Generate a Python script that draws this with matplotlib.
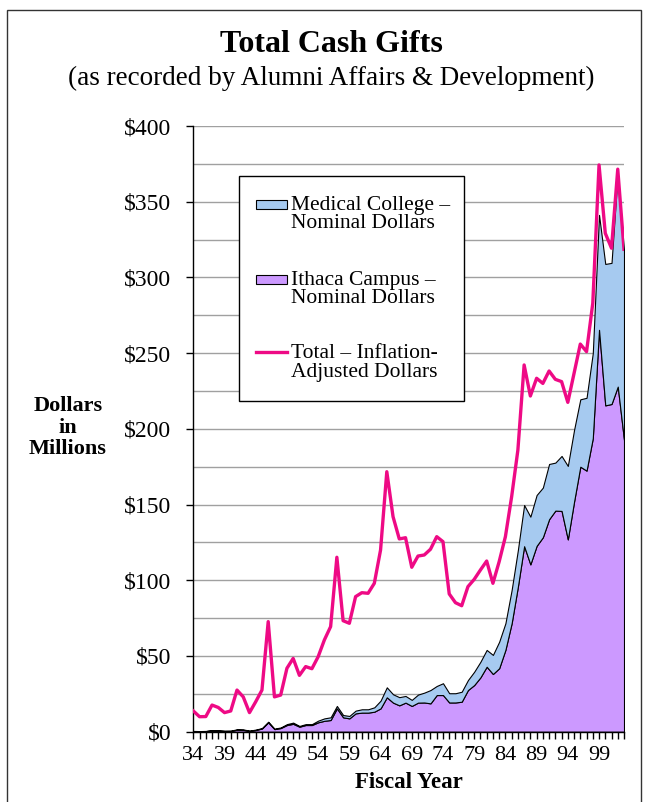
import numpy as np
import matplotlib
matplotlib.use("Agg")
import matplotlib.pyplot as plt
from matplotlib.patches import Rectangle
from matplotlib.lines import Line2D
from matplotlib.ticker import MultipleLocator, FixedLocator

W, H = 649, 802

# fiscal years 1934 - 2003, gifts in $ millions
years = np.arange(1934, 2004)

ithaca = [0.4, 0.3, 0.4, 0.8, 0.7, 0.5, 0.5, 1.3, 1.2, 0.5,
          1.1, 2.1, 6.2, 1.7, 2.4, 4.4, 5.2, 3.3, 4.4, 4.4,
          6.2, 7.2, 7.7, 15.4, 9.5, 8.8, 12.1, 12.6, 12.6, 13.2,
          15.4, 22.7, 19.2, 17.4, 19.2, 17.0, 19.2, 19.3, 18.7, 24.2,
          24.2, 19.3, 19.3, 19.8, 27.5, 30.8, 35.9, 42.9, 38.1, 41.9,
          54.0, 71.6, 95.8, 122.5, 110.5, 122.7, 128.4, 140.3, 146.0, 145.8,
          127.0, 151.9, 175.0, 172.4, 193.8, 265.4, 215.5, 216.4, 227.9, 192.7]

medical = [0.1, 0.1, 0.1, 0.2, 0.2, 0.1, 0.2, 0.3, 0.3, 0.2,
           0.3, 0.3, 0.4, 0.3, 0.4, 0.6, 0.8, 0.5, 0.6, 0.6,
           1.1, 1.6, 1.8, 1.6, 1.5, 1.6, 1.8, 2.2, 2.2, 2.9,
           5.1, 6.6, 5.5, 5.4, 4.4, 4.0, 5.3, 6.5, 8.8, 6.0,
           7.8, 6.1, 6.1, 6.6, 6.6, 8.8, 10.3, 11.1, 12.6, 17.5,
           17.6, 22.0, 24.2, 27.2, 31.5, 33.6, 32.8, 36.5, 31.7, 36.3,
           48.5, 47.4, 44.5, 48.1, 56.2, 75.9, 93.4, 93.2, 141.1, 125.3]

total_adjusted = [13.7, 9.9, 10.0, 17.6, 16.0, 12.6, 13.7, 27.5, 23.0, 12.6,
                  19.8, 27.5, 72.7, 23.0, 24.2, 41.9, 48.4, 37.2, 43.0, 41.6,
                  49.5, 60.6, 69.4, 115.2, 73.3, 71.6, 89.2, 91.8, 91.4, 98.0,
                  120.0, 171.7, 142.0, 127.3, 128.1, 108.6, 116.0, 116.7, 120.5, 128.8,
                  125.5, 91.0, 85.2, 83.2, 95.8, 100.6, 106.8, 112.7, 98.0, 112.3,
                  128.8, 155.2, 186.0, 242.2, 221.7, 233.4, 230.0, 238.2, 232.7, 231.2,
                  217.5, 236.7, 256.0, 251.0, 283.0, 374.3, 329.2, 319.3, 371.5, 318.6]

legend_labels = ["Medical College \u2013\nNominal Dollars",
                 "Ithaca Campus \u2013\nNominal Dollars",
                 "Total \u2013 Inflation-\nAdjusted Dollars"]

c_ithaca = "#CC99FF"
c_medical = "#A6CAF0"
c_total = "#EE0A85"

plt.rcParams["font.family"] = ["Liberation Serif", "DejaVu Serif"]


def fx(x):
    return x / W


def fy(y):
    return 1 - y / H


fig = plt.figure(figsize=(W / 100, H / 100), dpi=100)

ax = fig.add_axes([fx(193.3), fy(731.7), (624 - 193.3) / W, (731.7 - 126) / H])
ax.stackplot(years, ithaca, medical, colors=[c_ithaca, c_medical],
             edgecolor="black", linewidth=0.8, zorder=2)
ax.plot(years, total_adjusted, color=c_total, lw=2.4, zorder=3)

ax.set_xlim(years[0], years[-1])
ax.set_ylim(0, 400)

# grid every $25, labels every $50
ax.yaxis.set_major_locator(MultipleLocator(50))
ax.yaxis.set_minor_locator(MultipleLocator(25))
ax.grid(axis="y", which="both", color="#A0A0A0", lw=1.0, zorder=0)
ax.set_axisbelow(True)
ax.set_yticklabels([f"${int(v)}" for v in ax.get_yticks()])
ax.tick_params(axis="y", which="major", length=5, width=1, direction="out",
               pad=11, labelsize=17)
ax.tick_params(axis="y", which="minor", length=0)

major_years = years[::5]
ax.xaxis.set_major_locator(FixedLocator(major_years))
ax.xaxis.set_minor_locator(FixedLocator(years))
ax.set_xticklabels([f"{y % 100:02d}" for y in major_years])
ax.tick_params(axis="x", which="both", length=5, width=1, direction="out",
               pad=5, labelsize=16)

for s in ("top", "right"):
    ax.spines[s].set_visible(False)
for s in ("left", "bottom"):
    ax.spines[s].set_linewidth(1.0)

ax.set_xlabel("Fiscal Year", fontsize=16.5, fontweight="bold", labelpad=5)

fig.text(fx(68), fy(428), "Dollars\nin\nMillions", ha="center", va="center",
         fontsize=16, fontweight="bold", linespacing=1.1)
fig.text(fx(331), fy(45), "Total Cash Gifts", ha="center", va="center",
         fontsize=23, fontweight="bold")
fig.text(fx(331), fy(78), "(as recorded by Alumni Affairs & Development)",
         ha="center", va="center", fontsize=19.5)

# legend box
fig.patches.append(Rectangle((fx(239), fy(401)), (464 - 239) / W, (401 - 176) / H,
                             transform=fig.transFigure, facecolor="white",
                             edgecolor="black", lw=1.0, zorder=5))
baselines = [210, 285, 358.3]
for k, lab in enumerate(legend_labels):
    b = baselines[k]
    for j, line in enumerate(lab.split("\n")):
        fig.text(fx(291), fy(b + j * 18.3), line, ha="left", va="baseline",
                 fontsize=15.5, zorder=6)
for k, col in enumerate([c_medical, c_ithaca]):
    b = baselines[k]
    fig.patches.append(Rectangle((fx(256), fy(b - 1)), 31 / W, 9 / H,
                                 transform=fig.transFigure, facecolor=col,
                                 edgecolor="black", lw=0.8, zorder=6))
fig.lines.append(Line2D([fx(256), fx(287)], [fy(351.7), fy(351.7)],
                        transform=fig.transFigure, color=c_total, lw=2.4, zorder=6))

# outer frame
fig.patches.append(Rectangle((fx(7), fy(812)), (641 - 7) / W, (812 - 10) / H,
                             transform=fig.transFigure, facecolor="none",
                             edgecolor="#333333", lw=1.0, zorder=1))

fig.savefig("out.png", dpi=100)
